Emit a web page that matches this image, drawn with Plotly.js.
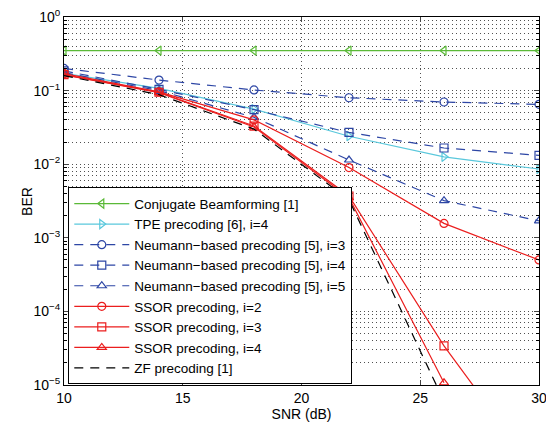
<!DOCTYPE html>
<html><head><meta charset="utf-8">
<script src="https://cdn.plot.ly/plotly-3.0.1.min.js"></script>
<style>html,body{margin:0;padding:0;background:#fff}#chart{width:546px;height:423px}</style>
</head><body><div id="chart"></div>
<script>
const snr = [10, 14, 18, 22, 26, 30];
const conjBF = [0.35, 0.35, 0.35, 0.35, 0.35, 0.35];
const tpe4 = [0.172, 0.107, 0.056, 0.024, 0.0126, 0.0086];
const neu3 = [0.2, 0.139, 0.102, 0.080, 0.070, 0.065];
const neu4 = [0.185, 0.104, 0.055, 0.027, 0.0166, 0.0132];
const neu5 = [0.175, 0.100, 0.0434, 0.0114, 0.0032, 0.0017];
const ssor2 = [0.17, 0.096, 0.040, 0.009, 0.00157, 0.0005];
const ssor3 = [0.165, 0.095, 0.033, 0.0037, 3.4e-5, 6e-7];
const ssor4 = [0.163, 0.094, 0.032, 0.0035, 1.07e-5, null];
const zf = [0.16, 0.088, 0.030, 0.0033, 6e-6, null];
const names = ['Conjugate Beamforming [1]', 'TPE precoding [6], i=4',
  'Neumann\u2212based precoding [5], i=3', 'Neumann\u2212based precoding [5], i=4',
  'Neumann\u2212based precoding [5], i=5', 'SSOR precoding, i=2',
  'SSOR precoding, i=3', 'SSOR precoding, i=4', 'ZF precoding [1]'];
const yTickVals = [1, 0.1, 0.01, 0.001, 0.0001, 0.00001];
const yTickText = ['10<sup>0</sup>', '10<sup>\u22121</sup>', '10<sup>\u22122</sup>', '10<sup>\u22123</sup>', '10<sup>\u22124</sup>', '10<sup>\u22125</sup>'];
const xTickVals = [10, 15, 20, 25, 30];

const green = 'rgb(90,185,55)', cyan = 'rgb(90,200,220)', blue = 'rgb(45,70,165)', red = 'rgb(235,30,30)';
const dashN = '9px,7px';
function tr(y, name, color, sym, dash) {
  return {x: snr, y: y, name: name, type: 'scatter', mode: sym ? 'lines+markers' : 'lines',
    line: {color: color, width: 1.2, dash: dash || 'solid'},
    marker: {symbol: sym || 'circle', size: 8, color: color, line: {color: color, width: 1.2}},
    connectgaps: false};
}
const data = [
  tr(conjBF, names[0], green, 'triangle-left-open'),
  tr(tpe4, names[1], cyan, 'triangle-right-open'),
  tr(neu3, names[2], blue, 'circle-open', dashN),
  tr(neu4, names[3], blue, 'square-open', dashN),
  tr(neu5, names[4], blue, 'triangle-up-open', dashN),
  tr(ssor2, names[5], red, 'circle-open'),
  tr(ssor3, names[6], red, 'square-open'),
  tr(ssor4, names[7], red, 'triangle-up-open'),
  tr(zf, names[8], 'black', null, dashN)
];
const minorVals = [];
for (let e = -5; e < 0; e++) for (let m = 2; m <= 9; m++) minorVals.push(m * Math.pow(10, e));
const gridCol = 'rgba(50,50,50,0.85)';
const layout = {
  width: 546, height: 423,
  margin: {l: 64, r: 7, t: 17, b: 38},
  paper_bgcolor: '#fff', plot_bgcolor: '#fff',
  font: {family: 'Liberation Sans, Arial, sans-serif', size: 14, color: '#000'},
  showlegend: true,
  legend: {x: 0.009, y: 0.002, xanchor: 'left', yanchor: 'bottom', bgcolor: '#fff',
    bordercolor: '#000', borderwidth: 1, font: {size: 13.5, color: '#000'}, tracegroupgap: 0,
    itemwidth: 55},
  annotations: [{text: 'BER', textangle: -90, xref: 'paper', yref: 'paper', x: -0.078, y: 0.5,
    xanchor: 'center', yanchor: 'middle', showarrow: false, font: {size: 14, color: '#000'}}],
  xaxis: {range: [10, 30], tickmode: 'array', tickvals: xTickVals, ticks: 'inside', ticklen: 5,
    showline: true, linecolor: '#000', linewidth: 1, mirror: 'allticks', zeroline: false,
    showgrid: true, gridcolor: gridCol, griddash: '1px,3px', gridwidth: 1, ticklabeloverflow: 'allow',
    tickfont: {size: 14}, title: {text: 'SNR (dB)', font: {size: 14}, standoff: 0}},
  yaxis: {type: 'log', range: [-5, 0], tickmode: 'array', tickvals: yTickVals, ticktext: yTickText,
    ticks: 'inside', ticklen: 5, showline: true, linecolor: '#000', linewidth: 1, mirror: 'allticks',
    zeroline: false, showgrid: true, gridcolor: gridCol, griddash: '1px,3px', gridwidth: 1,
    tickfont: {size: 14}, ticklabeloverflow: 'allow',
    minor: {tickmode: 'array', tickvals: minorVals, ticks: 'inside', ticklen: 3, tickcolor: '#000',
      showgrid: true, gridcolor: gridCol, griddash: '1px,3px', gridwidth: 1}}
};
Plotly.newPlot('chart', data, layout, {displayModeBar: false, staticPlot: true});
</script></body></html>
